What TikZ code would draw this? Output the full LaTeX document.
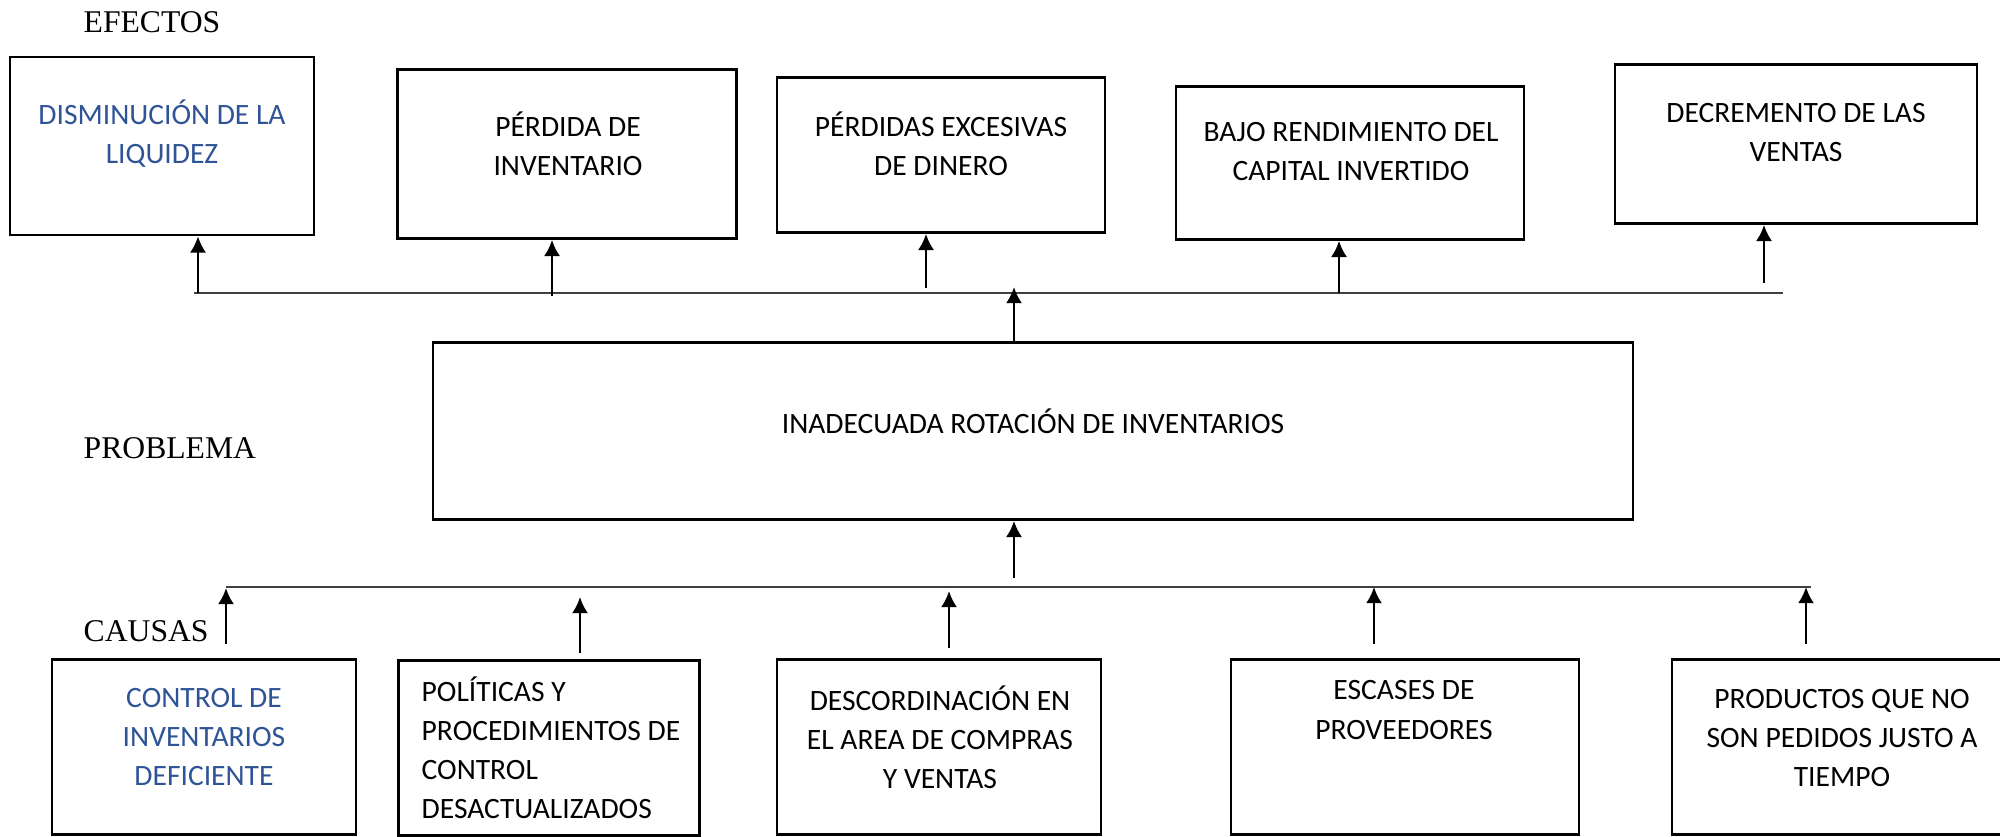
\documentclass[tikz,border=0pt]{standalone}
\usepackage{fontspec}
\setmainfont{Liberation Serif}
\newfontfamily\calibri{Carlito}
\usepackage{xcolor}
\usetikzlibrary{arrows.meta,positioning}
\definecolor{azulword}{RGB}{47,84,150}

\begin{document}
\begin{tikzpicture}[x=0.01cm, y=-0.01cm,
		caja/.style={draw, line width=0.75pt, inner sep=0pt},
		texto/.style={font=\calibri\fontsize{8.4}{11.1}\selectfont, align=center, inner sep=0pt},
		titulo/.style={font=\fontsize{9}{11}\selectfont, anchor=west, inner sep=0pt},
		flecha/.style={-{Latex[length=4.6pt,width=4.6pt]}, line width=0.75pt},
		linea/.style={line width=0.5pt, black!75}] % {{{
		\useasboundingbox (0,0) rectangle (2000,837);
		% Titulos {{{
		\node[titulo] (tefectos) at (83,22) {EFECTOS};
		\node[titulo] (tproblema) at (83,448) {PROBLEMA};
		\node[titulo] (tcausas) at (83,631) {CAUSAS};
		% }}}
		% Efectos {{{
		\node[caja, minimum width=3.04cm, minimum height=1.78cm] (e1) at (162,146) {};
		\node[texto, text=azulword] (te1) at (162,134) {DISMINUCIÓN DE LA\\LIQUIDEZ};
		\node[caja, minimum width=3.39cm, minimum height=1.69cm] (e2) at (567,154) {};
		\node[texto] (te2) at (568,144) {PÉRDIDA DE\\INVENTARIO};
		\node[caja, minimum width=3.28cm, minimum height=1.55cm] (e3) at (941,155) {};
		\node[texto] (te3) at (941,144) {PÉRDIDAS EXCESIVAS\\DE DINERO};
		\node[caja, minimum width=3.48cm, minimum height=1.53cm] (e4) at (1350,163) {};
		\node[texto] (te4) at (1351,152) {BAJO RENDIMIENTO DEL\\CAPITAL INVERTIDO};
		\node[caja, minimum width=3.62cm, minimum height=1.59cm] (e5) at (1796,144) {};
		\node[texto] (te5) at (1796,133) {DECREMENTO DE LAS\\VENTAS};
		% }}}
		% Linea de efectos {{{
		\coordinate (efA) at (194,293);
		\coordinate (efB) at (1783,293);
		\draw[linea] (efA) -- (efB);
		\coordinate (a1) at (198,293);
		\coordinate (a2) at (552,296);
		\coordinate (a3) at (926,288);
		\coordinate (a4) at (1339,293);
		\coordinate (a5) at (1764,283);
		\draw[flecha] (a1) -- (a1 |- e1.south);
		\draw[flecha] (a2) -- (a2 |- e2.south);
		\draw[flecha] (a3) -- (a3 |- e3.south);
		\draw[flecha] (a4) -- (a4 |- e4.south);
		\draw[flecha] (a5) -- (a5 |- e5.south);
		% }}}
		% Problema {{{
		\node[caja, minimum width=11.99cm, minimum height=1.77cm] (p) at (1033,431) {};
		\node[texto] (tp) at (1033,421) {INADECUADA ROTACIÓN DE INVENTARIOS};
		\coordinate (parriba) at (1014,287);
		\draw[flecha] (parriba |- p.north) -- (parriba);
		\coordinate (pabajo) at (1014,578);
		\draw[flecha] (pabajo) -- (pabajo |- p.south);
		% }}}
		% Linea de causas {{{
		\coordinate (caA) at (226,587);
		\coordinate (caB) at (1811,587);
		\draw[linea] (caA) -- (caB);
		\coordinate (b1) at (226,644); \coordinate (b1f) at (226,588);
		\coordinate (b2) at (580,653); \coordinate (b2f) at (580,597);
		\coordinate (b3) at (949,648); \coordinate (b3f) at (949,591);
		\coordinate (b4) at (1374,644); \coordinate (b4f) at (1374,587);
		\coordinate (b5) at (1806,644); \coordinate (b5f) at (1806,587);
		\draw[flecha] (b1) -- (b1f);
		\draw[flecha] (b2) -- (b2f);
		\draw[flecha] (b3) -- (b3f);
		\draw[flecha] (b4) -- (b4f);
		\draw[flecha] (b5) -- (b5f);
		% }}}
		% Causas {{{
		\node[caja, minimum width=3.04cm, minimum height=1.75cm] (c1) at (204,747) {};
		\node[texto, text=azulword] (tc1) at (204,737) {CONTROL DE\\INVENTARIOS\\DEFICIENTE};
		\node[caja, minimum width=3.01cm, minimum height=1.75cm] (c2) at (549,748) {};
		\node[texto, align=left, anchor=west] (tc2) at (421,748) {POLÍTICAS Y\\PROCEDIMIENTOS DE\\CONTROL\\DESACTUALIZADOS};
		\node[caja, minimum width=3.24cm, minimum height=1.75cm] (c3) at (939,747) {};
		\node[texto] (tc3) at (940,737) {DESCORDINACIÓN EN\\EL AREA DE COMPRAS\\Y VENTAS};
		\node[caja, minimum width=3.48cm, minimum height=1.75cm] (c4) at (1405,747) {};
		\node[texto] (tc4) at (1404,710) {ESCASES DE\\PROVEEDORES};
		\node[caja, minimum width=3.38cm, minimum height=1.75cm] (c5) at (1841,747) {};
		\node[texto] (tc5) at (1842,738) {PRODUCTOS QUE NO\\SON PEDIDOS JUSTO A\\TIEMPO};
		% }}}
\end{tikzpicture} % }}}
\end{document}
